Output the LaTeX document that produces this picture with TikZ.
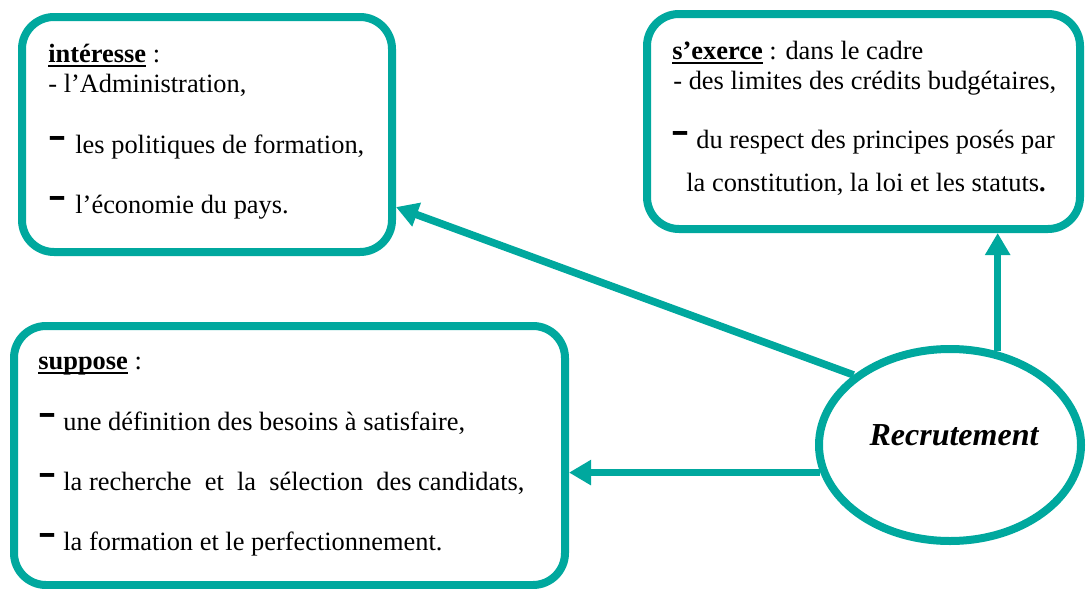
\documentclass[tikz,border=0pt]{standalone}
\usepackage{fontspec}
\setmainfont{Liberation Serif}
\usetikzlibrary{shapes.geometric,arrows.meta}
\definecolor{sarcelle}{RGB}{0,168,158}
\newcommand\tiret{\raisebox{0.6pt}{\scalebox{1}[2]{\fontsize{14}{14}\selectfont\bfseries –}}}
\newcommand\souligne[1]{\setbox0\hbox{\bfseries #1}\rlap{\rule[-2.4pt]{\wd0}{1pt}}\box0\relax}

\begin{document}
\begin{tikzpicture}[x=0.5pt,y=-0.5pt,
    cadre/.style={draw=sarcelle,line width=4pt,rounded corners=16pt,inner sep=0pt},
    ligne/.style={anchor=base west,inner sep=0pt,font=\fontsize{13.2}{15}\selectfont},
    fleche/.style={draw=sarcelle,line width=3.75pt,-{Triangle[length=11pt,width=12pt]}}]
  \useasboundingbox (0,0) rectangle (1087,589);
  % les trois cadres et l'ellipse
  \node[cadre,minimum width=185pt,minimum height=117.5pt] (interesse) at (207,134.5) {};
  \node[cadre,minimum width=216.5pt,minimum height=107.5pt] (exerce) at (863.5,121.5) {};
  \node[cadre,minimum width=275.5pt,minimum height=129.5pt] (suppose) at (289.5,455.5) {};
  \node[ellipse,draw=sarcelle,line width=4pt,inner sep=0pt,
        minimum width=131pt,minimum height=96pt] (recr) at (950,445) {};
  \node[anchor=base,inner sep=0pt,font=\fontsize{16}{18}\selectfont\bfseries\itshape]
    (recrtxt) at (954,445) {Recrutement};

  % textes
  \node[ligne] (int0) at (48,62) {\souligne{intéresse} :};
  \node[ligne] (int1) at (48,92) {- l’Administration,};
  \node[ligne] (int2) at (50,153) {\tiret\hspace{5.5pt}les politiques de formation,};
  \node[ligne] (int3) at (50,213) {\tiret\hspace{5.5pt}l’économie du pays.};

  \node[ligne] (exe0) at (672,59) {\souligne{s’exerce} : dans le cadre};
  \node[ligne] (exe1) at (673,89) {- des limites des crédits budgétaires,};
  \node[ligne] (exe2) at (673,148) {\tiret\hspace{4.5pt}du respect des principes posés par};
  \node[ligne] (exe3) at (686,191) {la constitution, la loi et les statuts\textbf{.}};

  \node[ligne] (sup0) at (38,369) {\souligne{suppose} :};
  \foreach \n/\yy/\t in {1/430/{une définition des besoins à satisfaire,},
      2/490/{la recherche\ \ et\ \ la\ \ sélection\ \ des candidats,},
      3/550/{la formation et le perfectionnement.}}
    \node[ligne] (sup\n) at (40,\yy) {\tiret\hspace{4.5pt}\t};

  % fleches
  \draw[fleche] (recr.144) -- (interesse.-21);
  \draw[fleche] (recr.63) -- (recr.63 |- exerce.south);
  \draw[fleche] (recr.192) -- (recr.192 -| suppose.east);
\end{tikzpicture}
\end{document}
